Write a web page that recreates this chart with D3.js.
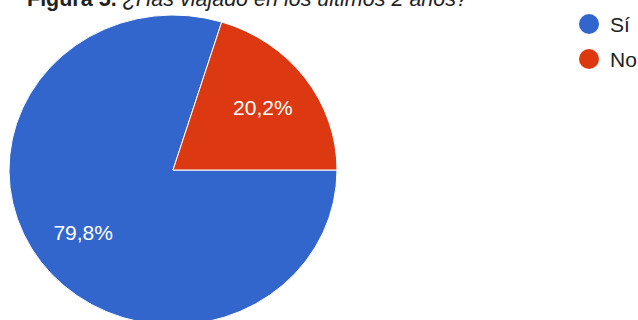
<!DOCTYPE html>
<html>
<head>
<meta charset="utf-8">
<script src="https://cdn.jsdelivr.net/npm/d3@7"></script>
<style>
  body { margin: 0; background: #fff; }
  text { font-family: "Liberation Sans", Arial, sans-serif; }
</style>
</head>
<body>
<div id="chart"></div>
<script>
var svgWidth = 638;
var svgHeight = 320;

// data
var categories = ["Sí", "No"];
var values = [79.8, 20.2];
var labels = ["79,8%", "20,2%"];
var colors = ["#3366cc", "#dc3912"];

var svg = d3.select("#chart")
  .append("svg")
  .attr("width", svgWidth)
  .attr("height", svgHeight);

// pie is a bit wider than tall in the picture
var ry = 155, rx = 164;
var cx = 173, cy = 170;

var pie = d3.pie()
  .sort(null)
  .startAngle(Math.PI / 2)
  .endAngle(Math.PI / 2 + 2 * Math.PI)
  .value(d => d);

var arcs = pie(values);

var arc = d3.arc().innerRadius(0).outerRadius(ry);
var labelArc = d3.arc().innerRadius(ry * 0.68).outerRadius(ry * 0.68);

var pieGroup = svg.append("g")
  .attr("transform", `translate(${cx}, ${cy}) scale(${rx / ry}, 1)`);

pieGroup.selectAll("path")
  .data(arcs)
  .enter()
  .append("path")
  .attr("d", arc)
  .attr("fill", (d, i) => colors[i])
  .attr("stroke", "#fff")
  .attr("stroke-width", 1)
  .attr("vector-effect", "non-scaling-stroke");

// slice labels
svg.selectAll(".slice-label")
  .data(arcs)
  .enter()
  .append("text")
  .attr("class", "slice-label")
  .attr("x", d => cx + labelArc.centroid(d)[0] * rx / ry)
  .attr("y", d => cy + labelArc.centroid(d)[1])
  .attr("dy", "0.35em")
  .attr("text-anchor", "middle")
  .attr("fill", "#fff")
  .style("font-size", "21px")
  .text((d, i) => labels[i]);

// title, cut at the top edge like the reference
var title = svg.append("text")
  .attr("x", 27)
  .attr("y", 6)
  .attr("fill", "#222")
  .style("font-size", "21.5px");
title.append("tspan").attr("font-weight", "bold").text("Figura 5.");
title.append("tspan").attr("font-style", "italic").text(" ¿Has viajado en los últimos 2 años?");

// legend
var legend = svg.selectAll(".legend")
  .data(categories)
  .enter()
  .append("g")
  .attr("class", "legend")
  .attr("transform", (d, i) => `translate(589, ${24 + i * 35})`);

legend.append("circle")
  .attr("r", 10)
  .attr("fill", (d, i) => colors[i]);

legend.append("text")
  .attr("x", 21)
  .attr("dy", "0.36em")
  .attr("fill", "#222")
  .style("font-size", "21px")
  .text(d => d);
</script>
</body>
</html>
